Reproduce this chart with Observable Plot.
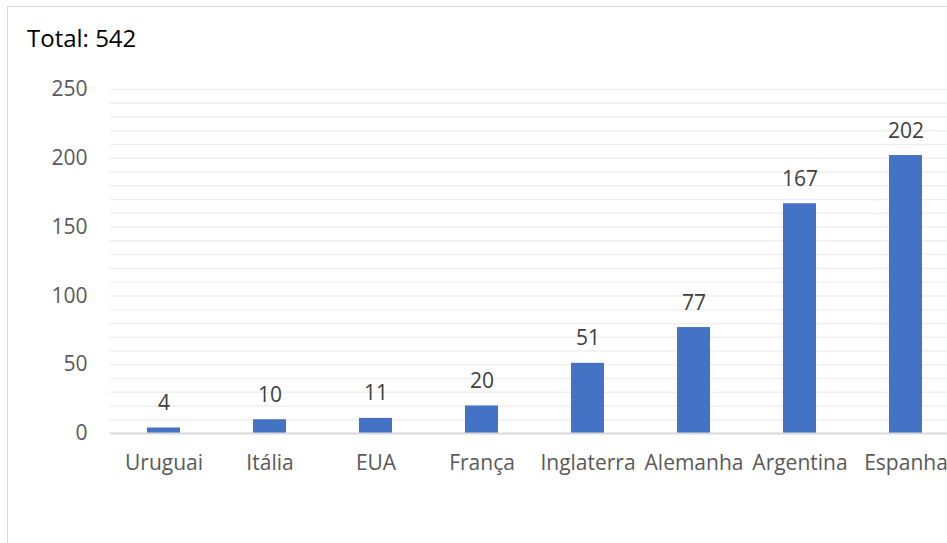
<!DOCTYPE html>
<html>
<head>
<meta charset="utf-8">
<script src="https://cdn.jsdelivr.net/npm/d3@7"></script>
<script src="https://cdn.jsdelivr.net/npm/@observablehq/plot@0.6"></script>
<style>
  html, body { margin: 0; padding: 0; background: #fff; overflow: hidden; }
  body { position: relative; width: 947px; height: 543px; font-family: "Open Sans", sans-serif; }
  #frame { position: absolute; left: 7px; top: 6px; width: 1100px; height: 700px; border: 1.5px solid #d9d9d9; box-sizing: border-box; }
  #title { position: absolute; left: 27px; top: 26px; font-size: 24px; line-height: 1; color: #000; white-space: nowrap; }
  #chart { position: absolute; left: 0; top: 0; }
</style>
</head>
<body>
<div id="frame"></div>
<div id="title">Total: 542</div>
<div id="chart"></div>
<script>
const categories = ["Uruguai", "Itália", "EUA", "França", "Inglaterra", "Alemanha", "Argentina", "Espanha"];
const values = [4, 10, 11, 20, 51, 77, 167, 202];
const yTicks = [0, 50, 100, 150, 200, 250];
const minorTicks = d3.range(10, 251, 10);

const data = categories.map((c, i) => ({country: c, value: values[i]}));

const chart = Plot.plot({
  width: 947,
  height: 543,
  marginLeft: 110,
  marginRight: 0,
  marginTop: 89,
  marginBottom: 110,
  style: {fontFamily: "'Open Sans', sans-serif", fontSize: "21px", background: "transparent", overflow: "visible"},
  x: {domain: categories, range: [110, 958], paddingInner: 0.69, paddingOuter: 0.345, label: null},
  y: {domain: [0, 250], range: [433, 89], label: null},
  marks: [
    Plot.ruleY(minorTicks, {stroke: "#efefef", strokeWidth: 1.5}),
    Plot.barY(data, {x: "country", y: "value", fill: "#4472C4"}),
    Plot.ruleY([0], {stroke: "#d9d9d9", strokeWidth: 2}),
    Plot.axisY({ticks: yTicks, tickSize: 0, tickPadding: 23, label: null, fill: "#595959", fontSize: 21}),
    Plot.axisX({tickSize: 0, tickPadding: 22, label: null, fill: "#595959", fontSize: 21}),
    Plot.text(data, {x: "country", y: "value", text: d => String(d.value), dy: -18, lineAnchor: "bottom", fill: "#404040", fontSize: 21})
  ]
});
document.getElementById("chart").appendChild(chart);
</script>
</body>
</html>
